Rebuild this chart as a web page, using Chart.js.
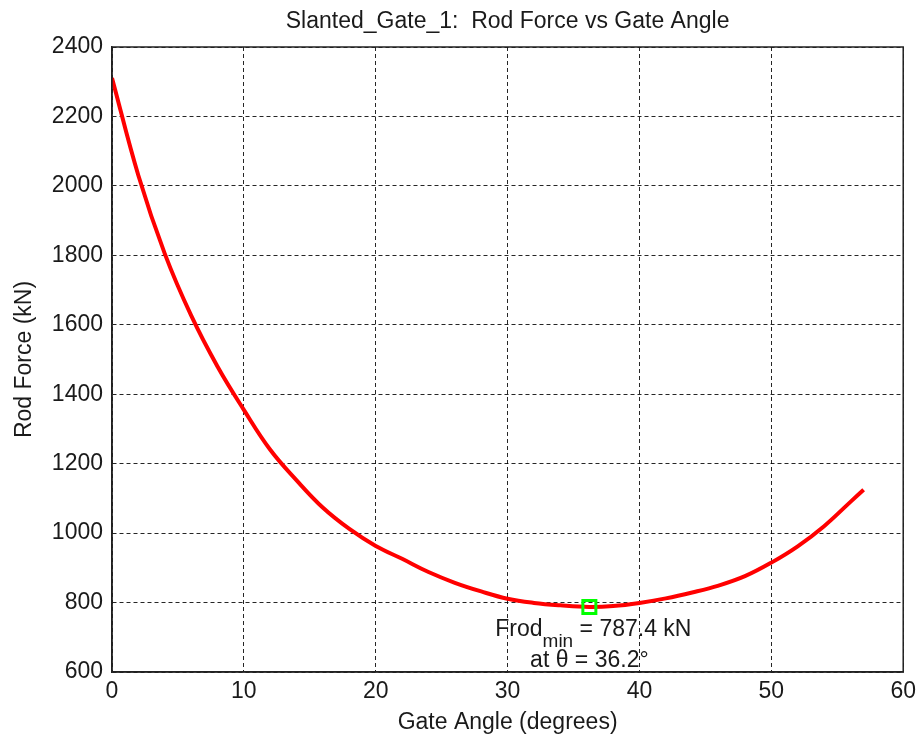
<!DOCTYPE html>
<html>
<head>
<meta charset="utf-8">
<script src="https://cdn.jsdelivr.net/npm/chart.js@4"></script>
<style>
  body { margin: 0; background: #fff; }
  #wrap { width: 922px; height: 738px; }
</style>
</head>
<body>
<div id="wrap"><canvas id="rod-chart" width="922" height="738"></canvas></div>
<script>
// values
const gateAngles = [0, 2, 4, 6, 8, 10, 12, 14, 16, 18, 20, 22, 24, 26, 28, 30, 32, 34, 36.2, 38, 40, 42, 44, 46, 48, 50, 52, 54, 56, 57];
const rodForces = [2311, 2030, 1805, 1627, 1480, 1355, 1240, 1152, 1073, 1012, 963, 926, 888, 857, 832, 811, 799, 792, 787.4, 790, 799, 812, 829, 849, 876, 915, 962, 1020, 1090, 1125];
const minAngle = [36.2];
const minForce = [787.4];
const xTicks = [0, 10, 20, 30, 40, 50, 60];
const yTicks = [600, 800, 1000, 1200, 1400, 1600, 1800, 2000, 2200, 2400];

const fontFamily = "'Liberation Sans', Arial, Helvetica, sans-serif";
const textColor = '#1a1a1a';

const curvePoints = gateAngles.map((a, i) => ({ x: a, y: rodForces[i] }));
const minPoints = minAngle.map((a, i) => ({ x: a, y: minForce[i] }));

// box around the whole plot area, like matlab axes
const boxPlugin = {
  id: 'boxPlugin',
  afterDraw(chart) {
    const { ctx, chartArea } = chart;
    ctx.save();
    ctx.strokeStyle = '#222';
    ctx.lineWidth = 1.5;
    ctx.strokeRect(chartArea.left, chartArea.top, chartArea.right - chartArea.left, chartArea.bottom - chartArea.top);
    ctx.restore();
  }
};

// "Frod_min = 787.4 kN / at θ = 36.2°" text under the marker
const minLabelPlugin = {
  id: 'minLabelPlugin',
  afterDatasetsDraw(chart) {
    const { ctx, scales } = chart;
    const px = scales.x.getPixelForValue(minAngle[0]);
    const py = scales.y.getPixelForValue(minForce[0]);
    const big = '23px ' + fontFamily;
    const small = '19px ' + fontFamily;
    const part1 = 'Frod';
    const part2 = 'min';
    const part3 = ' = ' + minForce[0].toFixed(1) + ' kN';
    ctx.save();
    ctx.fillStyle = textColor;
    ctx.textBaseline = 'alphabetic';
    ctx.textAlign = 'left';
    ctx.font = big;
    const w1 = ctx.measureText(part1).width;
    const w3 = ctx.measureText(part3).width;
    ctx.font = small;
    const w2 = ctx.measureText(part2).width;
    let x = px - (w1 + w2 + w3) / 2 + 4;
    const base1 = py + 29;
    ctx.font = big;
    ctx.fillText(part1, x, base1);
    x += w1;
    ctx.font = small;
    ctx.fillText(part2, x, base1 + 11);
    x += w2;
    ctx.font = big;
    ctx.fillText(part3, x, base1);
    ctx.textAlign = 'center';
    ctx.fillText('at \u03B8 = ' + minAngle[0].toFixed(1) + '\u00B0', px, py + 60);
    ctx.restore();
  }
};

const gridOpts = {
  color: 'rgba(0,0,0,0.85)',
  lineWidth: 1,
  drawTicks: false
};

new Chart(document.getElementById('rod-chart'), {
  type: 'line',
  data: {
    datasets: [
      {
        label: 'min',
        data: minPoints,
        showLine: false,
        pointStyle: 'rect',
        pointRadius: 9.2,
        pointBorderWidth: 3,
        pointBorderColor: '#00ff00',
        pointBackgroundColor: 'rgba(0,0,0,0)',
        order: 0
      },
      {
        label: 'Rod Force',
        data: curvePoints,
        borderColor: '#ff0000',
        borderWidth: 4,
        pointRadius: 0,
        tension: 0.4,
        fill: false,
        order: 1
      }
    ]
  },
  options: {
    responsive: false,
    animation: false,
    layout: { padding: { left: 0, right: 16, top: 0, bottom: 0 } },
    scales: {
      x: {
        type: 'linear',
        min: 0,
        max: 60,
        afterFit: s => { s.height = 66; },
        afterBuildTicks: s => { s.ticks = xTicks.map(v => ({ value: v })); },
        grid: gridOpts,
        border: { display: true, color: '#222', width: 1.5, dash: [4, 3] },
        ticks: {
          padding: 6,
          color: textColor,
          font: { family: fontFamily, size: 23 },
          maxRotation: 0,
          callback: v => String(v)
        },
        title: {
          display: true,
          text: 'Gate Angle (degrees)',
          color: textColor,
          font: { family: fontFamily, size: 23 },
          padding: { top: 0, bottom: 2 }
        }
      },
      y: {
        type: 'linear',
        min: 600,
        max: 2400,
        afterFit: s => { s.width = 112; },
        afterBuildTicks: s => { s.ticks = yTicks.map(v => ({ value: v })); },
        grid: gridOpts,
        border: { display: true, color: '#222', width: 1.5, dash: [4, 3] },
        ticks: {
          padding: 9,
          color: textColor,
          font: { family: fontFamily, size: 23 },
          callback: v => String(v)
        },
        title: {
          display: true,
          text: 'Rod Force (kN)',
          color: textColor,
          font: { family: fontFamily, size: 23 },
          padding: { top: 11, bottom: 0 }
        }
      }
    },
    plugins: {
      legend: { display: false },
      tooltip: { enabled: false },
      title: {
        display: true,
        fullSize: false,
        text: 'Slanted_Gate_1:  Rod Force vs Gate Angle',
        color: textColor,
        font: { family: fontFamily, size: 23, weight: 'normal' },
        padding: { top: 8, bottom: 11.4 }
      }
    }
  },
  plugins: [boxPlugin, minLabelPlugin]
});
</script>
</body>
</html>
